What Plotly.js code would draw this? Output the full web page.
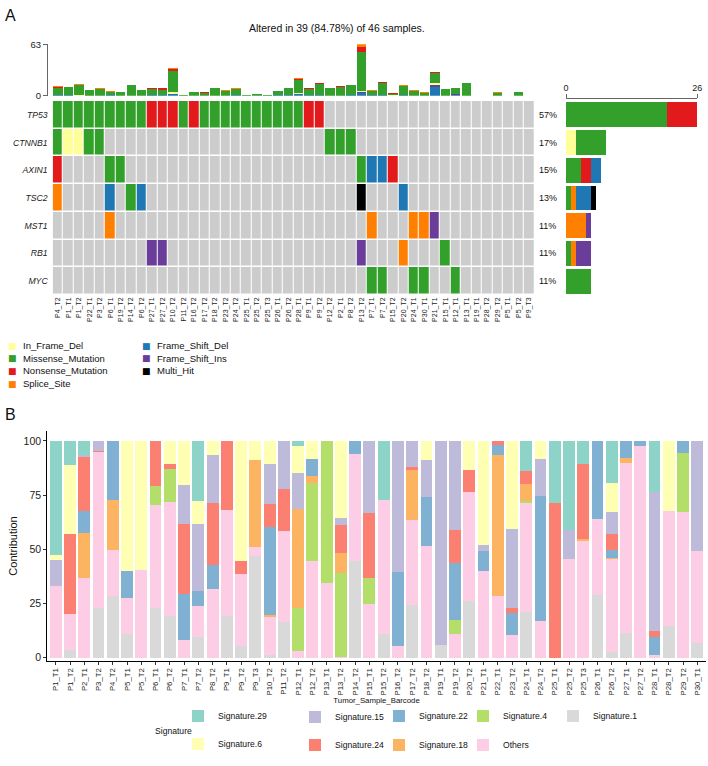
<!DOCTYPE html>
<html><head><meta charset="utf-8">
<script src="https://cdn.plot.ly/plotly-3.0.1.min.js"></script>
<style>html,body{margin:0;padding:0;background:#fff}#chart{width:708px;height:766px}</style>
</head><body><div id="chart"></div>
<script>
// ================= Panel A data =================
const oncoSamples = ["P4_T2","P1_T1","P1_T2","P22_T1","P3_T2","P6_T1","P19_T2","P14_T2","P6_T2","P27_T1",
 "P27_T2","P10_T2","P11_T2","P16_T2","P17_T2","P18_T2","P23_T2","P24_T2","P25_T1","P25_T2",
 "P25_T3","P26_T1","P26_T2","P28_T1","P9_T1","P9_T2","P12_T2","P2_T1","P8_T2","P13_T2",
 "P7_T1","P7_T2","P15_T2","P20_T2","P24_T1","P30_T1","P21_T1","P15_T1","P12_T1","P13_T1",
 "P19_T1","P28_T2","P29_T2","P5_T1","P5_T2","P9_T3"];
const genes = ["TP53","CTNNB1","AXIN1","TSC2","MST1","RB1","MYC"];
const variantClasses = ["In_Frame_Del","Missense_Mutation","Nonsense_Mutation","Splice_Site","Frame_Shift_Del","Frame_Shift_Ins","Multi_Hit"];
const variantCodes = ["D","M","N","S","F","I","H"];
const variantColors = ["#FFFF99","#33A02C","#E31A1C","#FF7F00","#1F78B4","#6A3D9A","#000000"];
const noMutColor = "#CCCCCC";

// mutation matrix (one array per gene, '.' = not mutated)
const mutTP53 = [
 "M","M","M","M","M","M","M","M","M","N",
 "N","N","M","N","M","M","M","M","M","M",
 "M","M","M","M","N","N",".",".",".",".",
 ".",".",".",".",".",".",".",".",".",".",
 ".",".",".",".",".","."];
const mutCTNNB1 = [
 "M","D","D","M","M",".",".",".",".",".",
 ".",".",".",".",".",".",".",".",".",".",
 ".",".",".",".",".",".","M","M","M",".",
 ".",".",".",".",".",".",".",".",".",".",
 ".",".",".",".",".","."];
const mutAXIN1 = [
 "N",".",".",".",".","M","M",".",".",".",
 ".",".",".",".",".",".",".",".",".",".",
 ".",".",".",".",".",".",".",".",".","M",
 "F","F","N",".",".",".",".",".",".",".",
 ".",".",".",".",".","."];
const mutTSC2 = [
 "S",".",".",".",".","F",".","M","F",".",
 ".",".",".",".",".",".",".",".",".",".",
 ".",".",".",".",".",".",".",".",".","H",
 ".",".",".","F",".",".",".",".",".",".",
 ".",".",".",".",".","."];
const mutMST1 = [
 ".",".",".",".",".","S",".",".",".",".",
 ".",".",".",".",".",".",".",".",".",".",
 ".",".",".",".",".",".",".",".",".",".",
 "S",".",".",".","S","S","I",".",".",".",
 ".",".",".",".",".","."];
const mutRB1 = [
 ".",".",".",".",".",".",".",".",".","I",
 "I",".",".",".",".",".",".",".",".",".",
 ".",".",".",".",".",".",".",".",".","I",
 ".",".",".","S",".",".",".","M",".",".",
 ".",".",".",".",".","."];
const mutMYC = [
 ".",".",".",".",".",".",".",".",".",".",
 ".",".",".",".",".",".",".",".",".",".",
 ".",".",".",".",".",".",".",".",".",".",
 "M","M",".",".","M","M",".",".","M",".",
 ".",".",".",".",".","."];

// mutation burden per sample (top bar), by variant class
const tmbFrameShiftDel = [1,1,0,0,0,1,0,0,0,1, 1,2,0,0,0,0,0,1,0,0, 0,1,1,2,1,1,0,0,1,3, 1,1,0,1,0,0,11,0,1,0, 0,0,0,0,0,0];
const tmbFrameShiftIns = [0,0,0,0,0,0,0,0,0,0, 0,0,0,0,0,0,0,0,0,0, 0,0,0,0,0,0,0,0,0,1, 0,0,0,0,0,0,2,0,1,0, 0,0,0,0,0,0];
const tmbInFrameDel    = [0,0,1,0,0,0,0,0,0,0, 0,2,0,0,0,0,0,0,0,0, 0,0,0,1,0,0,0,0,0,2, 0,0,1,0,0,0,3,0,0,0, 0,0,0,0,0,0];
const tmbMissense      = [8,10,12,7,8,4,4,13,7,7, 6,26,1,4,3,10,6,7,1,2, 1,5,8,16,7,13,10,11,12,47, 5,14,1,11,6,3,12,8,7,15, 0,0,3,0,5,0];
const tmbNonsense      = [2,0,0,0,0,0,0,0,0,2, 2,3,0,1,1,0,0,0,0,0, 0,0,0,1,2,2,0,1,0,7, 0,2,1,0,0,0,1,0,1,0, 0,0,0,0,0,0];
const tmbSpliceSite    = [1,0,1,0,1,1,0,0,0,0, 0,1,0,0,1,0,1,1,0,0, 0,0,0,2,0,0,0,0,0,3, 1,0,0,1,1,1,0,0,0,0, 0,0,1,0,0,0];

// ================= Panel B data =================
const sigSamples = ["P1_T1","P1_T2","P2_T1","P3_T2","P4_T2","P5_T1","P5_T2","P6_T1","P6_T2","P7_T1",
 "P7_T2","P8_T2","P9_T1","P9_T2","P9_T3","P10_T2","P11_T2","P12_T1","P12_T2","P13_T1",
 "P13_T2","P14_T2","P15_T1","P15_T2","P16_T2","P17_T2","P18_T2","P19_T1","P19_T2","P20_T2",
 "P21_T1","P22_T1","P23_T2","P24_T1","P24_T2","P25_T1","P25_T2","P25_T3","P26_T1","P26_T2",
 "P27_T1","P27_T2","P28_T1","P28_T2","P29_T2","P30_T1"];
const sigSig1  = [0,3.5,0,23,28.6,10.8,0,23,19,0, 9.5,0,19,5.4,47,1,16.2,0,0,0, 0,44.5,0,10.8,0,24.3,0,5.7,0,26.3, 0,0,0,20.9,0,0,0,0,28.9,2.6, 11.3,0,0,14.4,0,6.6];
const sigOthers= [33,16.5,36.6,72,21.2,16.7,40.5,47.3,52.6,8, 14.5,31.7,49.3,33.2,4,17.9,42.4,3.1,44.8,34.3, 0.3,49.3,24.7,61.8,5.1,39.1,51.6,0,10.7,50.2, 39.9,28.6,10.5,50.5,16.7,0,45.6,53.8,34.9,43, 78.3,97.8,1.1,53.1,67.2,42.5];
const sigSig4  = [0,0,0,0,0,0,0,9,15.4,0, 0,0,0,0,0,0,0,19.8,35.9,65.7, 38.7,0,11.9,0,0,0,0,0,6.6,0, 0,0,0,0.8,0,0,0,0,0,0, 0,0,0,0,27.4,0];
const sigSig18 = [0,0,21,0,22.8,0,0,0,0,0, 0,0,0,0,40.2,0.6,0,45.7,3.1,0, 9.4,0,0,0,0,23.2,0,0,0,0, 0,64.9,0,7.9,0,0,0,1.1,0,0.5, 2.4,0,0,0,0,0];
const sigSig22 = [0,0,10,0,27.4,12.5,0,0,0,21.2, 6.5,11.1,0,0,0,40.6,0,0,7.7,0, 0,6.2,0,0,34.3,0,22.3,0,26.3,0, 9.1,4.6,9.9,0,57.8,0,0,0,36.2,3.4, 8,2.2,8.2,0,5.4,0];
const sigSig24 = [0,37,25,0.5,0,0,0,20.7,2.2,32.6, 0,28.7,31.7,6.2,0,11,19.1,0,0,0, 12.6,0,30.2,0,0,1.5,0,0,15.1,10.2, 0,1.9,2.5,6,0,71.4,0,34.3,0,7.4, 0,0,2.8,0,0,0];
const sigSig15 = [12,0,1.1,4.5,0,0,0,0,0,17.8, 31,22,0,0,0,18.1,22.3,16.7,0,0, 3.6,0,33.2,0,60.6,11.9,17.3,94.3,41.3,0, 2.8,0,36.6,0,17.2,0,13.1,0,0,10.3, 0,0,64.4,0,0,50.9];
const sigSig6  = [2.5,32,0,0,0,60,59.5,0,10.8,20.4, 11,6.5,0,55.2,8.8,10.8,0,12.4,8.5,0, 35.4,0,0,0,0,0,8.8,0,0,13.3, 48.2,0,40.5,0,8.3,0,0,0,0,13.2, 0,0,0,32.5,0,0];
const sigSig29 = [52.5,11,6.3,0,0,0,0,0,0,0, 27.5,0,0,0,0,0,0,2.3,0,0, 0,0,0,27.4,0,0,0,0,0,0, 0,0,0,13.9,0,28.6,41.3,10.8,0,19.6, 0,0,23.5,0,0,0];
const sigNames  = ["Signature.1","Others","Signature.4","Signature.18","Signature.22","Signature.24","Signature.15","Signature.6","Signature.29"];
const sigColors = ["#D9D9D9","#FCCDE5","#B3DE69","#FDB462","#80B1D3","#FB8072","#BEBADA","#FFFFB3","#8DD3C7"];

// ================= build =================
const W = 708, H = 766;
const px = x => x / W, py = y => 1 - y / H;
const FONT = "Liberation Sans, Arial, Helvetica, sans-serif";

const mutMatrix = [mutTP53, mutCTNNB1, mutAXIN1, mutTSC2, mutMST1, mutRB1, mutMYC];
const nSamples = oncoSamples.length;
const traces = [];

// top bar: mutation burden
const tmbSeries = [
  ["Frame_Shift_Del", tmbFrameShiftDel], ["Frame_Shift_Ins", tmbFrameShiftIns],
  ["In_Frame_Del", tmbInFrameDel], ["Missense_Mutation", tmbMissense],
  ["Nonsense_Mutation", tmbNonsense], ["Splice_Site", tmbSpliceSite]];
tmbSeries.forEach(([cls, vals]) => {
  traces.push({type:"bar", x:oncoSamples, y:vals, xaxis:"x", yaxis:"y", width:0.9,
    marker:{color:variantColors[variantClasses.indexOf(cls)], line:{width:0}},
    name:cls, showlegend:false, hoverinfo:"skip"});
});
const tmbTotals = oncoSamples.map((s,i) => tmbSeries.reduce((a,[c,v]) => a + v[i], 0));
const tmbMax = Math.max(...tmbTotals);

// oncoplot grid
const codeIdx = {".":0}; variantCodes.forEach((c,i) => codeIdx[c] = i + 1);
const cellColors = [noMutColor].concat(variantColors);
const cs = [];
cellColors.forEach((c,i) => { cs.push([i/cellColors.length, c]); cs.push([(i+1)/cellColors.length, c]); });
traces.push({type:"heatmap", x:oncoSamples, y:genes.map((g,i)=>i),
  z: mutMatrix.map(row => row.map(v => codeIdx[v])),
  xaxis:"x2", yaxis:"y2", colorscale:cs, zmin:-0.5, zmax:cellColors.length-0.5,
  showscale:false, xgap:1, ygap:1.5, hoverinfo:"skip"});

// right bar: per-gene counts by class
const geneCounts = mutMatrix.map(row => row.filter(v => v !== ".").length);
const geneMax = Math.max(...geneCounts);
variantCodes.forEach((code,k) => {
  traces.push({type:"bar", orientation:"h", y:genes.map((g,i)=>i),
    x: mutMatrix.map(row => row.filter(v => v === code).length),
    xaxis:"x3", yaxis:"y2", width:0.9,
    marker:{color:variantColors[k], line:{width:0}}, name:variantClasses[k], showlegend:false, hoverinfo:"skip"});
});

// panel B stacked bars
const sigSeries = [sigSig1, sigOthers, sigSig4, sigSig18, sigSig22, sigSig24, sigSig15, sigSig6, sigSig29];
const legPos = {"Signature.29":[197,716], "Signature.6":[197,744], "Signature.15":[314,717], "Signature.24":[314,745],
  "Signature.22":[398,716], "Signature.18":[398,745], "Signature.4":[482,716], "Others":[482,745], "Signature.1":[572,716]};
const legends = {};
sigNames.forEach((nm,k) => {
  const lid = k === 0 ? "legend" : "legend" + (k+1);
  traces.push({type:"bar", x:sigSamples, y:sigSeries[k], xaxis:"x4", yaxis:"y4", width:0.83,
    marker:{color:sigColors[k], line:{width:0}}, name:nm, legend:lid, showlegend:true, hoverinfo:"skip"});
  const [lx, ly] = legPos[nm];
  legends[lid] = {x:px(lx-19), y:py(ly), xanchor:"left", yanchor:"middle",
    bgcolor:"rgba(0,0,0,0)", borderwidth:0, font:{size:8.6, family:FONT, color:"#111"}, itemclick:false, itemdoubleclick:false};
});

// annotations
const altered = oncoSamples.filter((s,i) => mutMatrix.some(row => row[i] !== ".")).length;
const annotations = [];
annotations.push({text:"A", x:px(3), y:py(15), xref:"paper", yref:"paper", xanchor:"left", yanchor:"middle", showarrow:false, font:{size:16, family:FONT}});
annotations.push({text:"B", x:px(3), y:py(414), xref:"paper", yref:"paper", xanchor:"left", yanchor:"middle", showarrow:false, font:{size:16, family:FONT}});
annotations.push({text:`Altered in ${altered} (${(100*altered/nSamples).toFixed(2)}%) of ${nSamples} samples.`,
  x:px(337), y:py(28), xref:"paper", yref:"paper", xanchor:"center", yanchor:"middle", showarrow:false, font:{size:10.5, family:FONT}});
geneCounts.forEach((c,i) => annotations.push({text:Math.round(100*c/nSamples)+"%", x:px(537), y:i, xref:"paper", yref:"y2",
  xanchor:"left", yanchor:"middle", showarrow:false, font:{size:9, family:FONT, color:"#111"}}));
// panel A legend
const legA = [[12,21,346],[12,21,358.5],[12,21,371],[12,21,383.5],[146,155,346],[146,155,358.5],[146,155,371]];
variantClasses.forEach((cls,k) => {
  const [sx, tx, ty] = legA[k];
  annotations.push({text:"■", x:px(sx), y:py(ty), xref:"paper", yref:"paper", xanchor:"center", yanchor:"middle", showarrow:false,
    font:{size:9, family:"DejaVu Sans", color:variantColors[k]}});
  annotations.push({text:cls, x:px(tx), y:py(ty), xref:"paper", yref:"paper", xanchor:"left", yanchor:"middle", showarrow:false,
    font:{size:9.5, family:FONT, color:"#111"}});
});
annotations.push({text:"Signature", x:px(153), y:py(731), xref:"paper", yref:"paper", xanchor:"left", yanchor:"middle", showarrow:false,
  font:{size:8.6, family:FONT, color:"#111"}});

const layout = Object.assign({
  width:W, height:H, margin:{l:0, r:0, t:0, b:0, autoexpand:false}, paper_bgcolor:"#fff", plot_bgcolor:"rgba(0,0,0,0)",
  font:{family:FONT, color:"#111"}, barmode:"stack", hovermode:false, showlegend:true,
  xaxis:{domain:[px(52.7), px(534.3)], type:"category", categoryarray:oncoSamples, categoryorder:"array", range:[-0.5, nSamples-0.5], visible:false, anchor:"y"},
  yaxis:{domain:[py(95.7), py(44.3)], range:[0, tmbMax], tickvals:[0, tmbMax], showline:true, linecolor:"#666", linewidth:1,
    ticks:"outside", ticklen:4, tickcolor:"#666", showgrid:false, zeroline:false, anchor:"free", position:px(47), tickfont:{size:9.5, color:"#222"}},
  xaxis2:{domain:[px(52.7), px(534.3)], type:"category", categoryarray:oncoSamples, categoryorder:"array", range:[-0.5, nSamples-0.5], anchor:"y2",
    tickangle:-90, tickfont:{size:7, color:"#222"}, ticks:"", showline:false, showgrid:false, zeroline:false},
  yaxis2:{domain:[py(295), py(101)], range:[genes.length-0.5, -0.5], tickvals:genes.map((g,i)=>i), ticktext:genes.map(g=>"<i>"+g+"</i>"),
    ticks:"", showgrid:false, zeroline:false, showline:false, tickfont:{size:8.7, color:"#222"}, anchor:"x2", ticklabelstandoff:4},
  xaxis3:{domain:[px(566), px(697.3)], range:[0, geneMax], tickvals:[0, geneMax], side:"top", anchor:"free", position:py(98.3),
    showline:true, linecolor:"#666", ticks:"outside", ticklen:4, tickcolor:"#666", showgrid:false, zeroline:false, tickfont:{size:9, color:"#222"}},
  xaxis4:{domain:[px(47.2), px(705.9)], type:"category", categoryarray:sigSamples, categoryorder:"array", range:[-0.6, sigSamples.length-0.4], anchor:"y4",
    tickangle:-90, tickfont:{size:7.8, color:"#222"}, ticks:"outside", ticklen:3, tickcolor:"#333", showline:true, linecolor:"#000", linewidth:1,
    showgrid:false, zeroline:false, title:{text:"Tumor_Sample_Barcode", font:{size:7.8, color:"#111"}, standoff:3}},
  yaxis4:{domain:[py(661), py(431)], range:[-1.6, 104.6], tickvals:[0,25,50,75,100], ticks:"outside", ticklen:3, tickcolor:"#333",
    showline:true, linecolor:"#000", linewidth:1, showgrid:false, zeroline:false, tickfont:{size:10.5, color:"#222"},
    title:{text:"Contribution", font:{size:11, color:"#111"}, standoff:3}, anchor:"x4"},
  annotations:annotations
}, legends);

Plotly.newPlot("chart", traces, layout, {displayModeBar:false, staticPlot:true});
</script></body></html>
